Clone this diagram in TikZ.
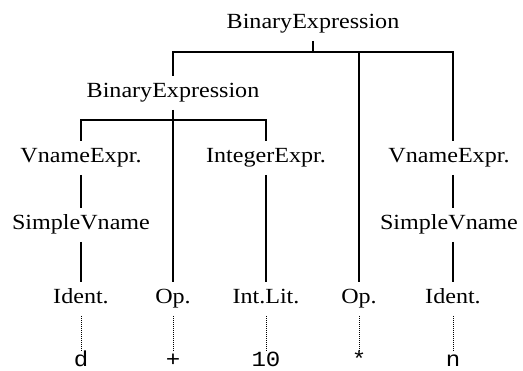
\documentclass[tikz,border=0pt]{standalone}
\usepackage{fontspec}
\setmainfont{Liberation Serif}[FakeStretch=1.115]
\setmonofont{Liberation Mono}[FakeStretch=1.115]
\begin{document}
\begin{tikzpicture}[x=1pt,y=-1pt,
  lbl/.style={anchor=base, inner sep=0pt, outer xsep=0pt, outer ysep=7pt,
    text height=15pt, text depth=5pt, font=\fontsize{21.6}{26}\selectfont},
  tok/.style={anchor=base, inner sep=0pt, outer xsep=0pt, outer ysep=6pt,
    text height=10pt, text depth=3pt, font=\fontsize{21.6}{26}\selectfont\ttfamily},
  tline/.style={line width=1.4pt},
  dots/.style={line width=1pt, dash pattern=on 1pt off 1pt}]
\useasboundingbox (0,0) rectangle (523,371);
% labels
\node[lbl] (root) at (313,29) {BinaryExpression};
\node[lbl] (bin2) at (173,98) {BinaryExpression};
\node[lbl] (vn1) at (81,163) {VnameExpr.};
\node[lbl] (ie) at (266,163) {IntegerExpr.};
\node[lbl] (vn2) at (449,163) {VnameExpr.};
\node[lbl] (sv1) at (81,230) {SimpleVname};
\node[lbl] (sv2) at (449,230) {SimpleVname};
\node[lbl] (id1) at (81,304) {Ident.};
\node[lbl] (op1) at (173,304) {Op.};
\node[lbl] (il) at (266,304) {Int.Lit.};
\node[lbl] (op2) at (359,304) {Op.};
\node[lbl] (id2) at (453,304) {Ident.};
\node[tok] (t1) at (81,367) {d};
\node[tok] (t2) at (173,367) {+};
\node[tok] (t3) at (266,367) {10};
\node[tok] (t4) at (359,367) {*};
\node[tok] (t5) at (453,367) {n};
\coordinate (j1) at (313,52);
\coordinate (j2) at (173,120);
% tree lines
\draw[tline] (root.south) -- (j1);
\draw[tline] (bin2.north) |- (j1) -| (vn2.north -| id2.north);
\draw[tline] (op2.north |- j1) -- (op2.north);
\draw[tline] (bin2.south) -- (j2);
\draw[tline] (vn1.north) |- (j2) -| (ie.north);
\draw[tline] (j2) -- (op1.north);
\draw[tline] (vn1.south) -- (sv1.north);
\draw[tline] (sv1.south) -- (id1.north);
\draw[tline] (ie.south) -- (il.north);
\draw[tline] (vn2.south -| id2.north) -- (sv2.north -| id2.north);
\draw[tline] (sv2.south -| id2.north) -- (id2.north);
% dotted links
\draw[dots] (id1.south) -- (t1.north);
\draw[dots] (op1.south) -- (t2.north);
\draw[dots] (il.south) -- (t3.north);
\draw[dots] (op2.south) -- (t4.north);
\draw[dots] (id2.south) -- (t5.north);
\end{tikzpicture}
\end{document}
